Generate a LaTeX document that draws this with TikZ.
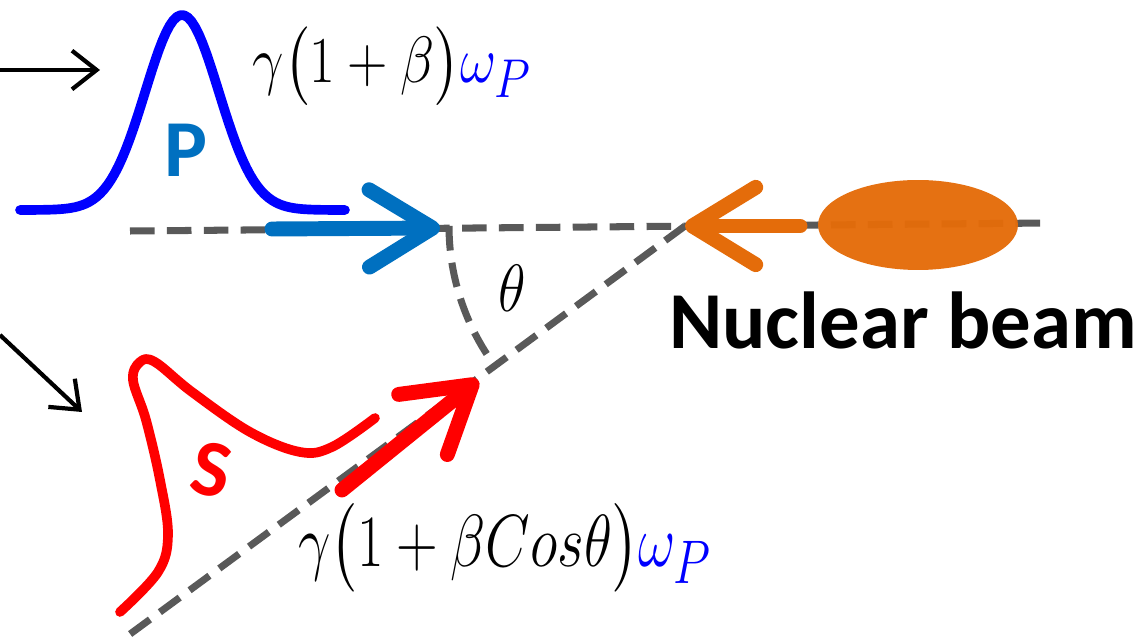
\documentclass[tikz,border=0pt]{standalone}
\usepackage{amsmath}
\usepackage{graphicx}
\usepackage{xcolor}
\usepackage{fontspec}
\usepackage{tikz}
\usetikzlibrary{arrows.meta, positioning, shapes.geometric, calc}
\newfontfamily\tagfont{Carlito}
\definecolor{pulseblue}{RGB}{0,0,255}
\definecolor{beamblue}{RGB}{0,112,192}
\definecolor{nucorange}{RGB}{228,108,10}
\definecolor{axisgray}{RGB}{89,89,89}

\begin{document}
\begin{tikzpicture}[x=0.02cm, y=-0.02cm,
    axis/.style={draw=axisgray, line width=4pt, dash pattern=on 14pt off 7pt},
    pulse/.style={line width=5.5pt, line cap=round, line join=round},
    beam/.style={line width=8.5pt, line cap=round,
                 -{Straight Barb[length=36pt, width=44pt, round]}},
    feed/.style={black, line width=2.4pt, -{Straight Barb[length=14pt, width=22pt]}},
    tag/.style={font=\tagfont\bfseries\fontsize{46}{50}\selectfont},
    formula/.style={font=\Huge, inner sep=0pt}
]
\useasboundingbox (0,0) rectangle (1144,644);
\coordinate (vtx) at (685,226);
\coordinate (axL) at (130,231);
\coordinate (axR) at (1050,223);
\coordinate (slant) at (122,640);

\draw[axis] (axL) -- (axR);
\draw[axis] (vtx) -- (slant);
\draw[axis] ($(vtx)+(-236,0)$) arc[start angle=180, end angle=145, radius=236];

\node[fill=nucorange, ellipse, minimum width=4cm, minimum height=1.8cm,
      inner sep=0pt, fill opacity=0.97] (nuc) at (918,225) {};
\node[tag] (nuclab) at (903,320) {Nuclear beam};

\coordinate (ptail) at (272,229);
\coordinate (ptip) at (440,228);
\draw[beam, beamblue] (ptail) -- (ptip);
\coordinate (otail) at (800,226);
\draw[beam, nucorange] (otail) -- (vtx);
\coordinate (stail) at (342,490);
\coordinate (stip) at (478,380);
\draw[beam, red] (stail) -- (stip);

\draw[pulse, pulseblue] plot[domain=20:345, samples=90]
    (\x, {210-195*exp(-((\x-182)/52)*((\x-182)/52))});
\draw[pulse, red] plot[smooth, tension=0.6] coordinates {(120,612) (158,572) (168,535)
    (160,480) (146,420) (133,380) (140,362) (155,362) (192,392) (250,432) (300,452)
    (332,447) (375,418)};

\node[tag, text=beamblue] (plab) at (186,150) {P};
\node[tag, text=red, rotate=-12] (slab) at (212,470) {S};
\node[formula] (thlab) at (512,288) {\scalebox{1.3}[1.53]{$\theta$}};

\node[formula] (pfreq) at (392,66)
    {\scalebox{1.28}[1.5]{$\gamma\bigl(1+\beta\bigr)\textcolor{pulseblue}{\omega_P}$}};
\node[formula] (sfreq) at (505,548)
    {\scalebox{1.32}[1.69]{$\gamma\bigl(1+\beta Cos\theta\bigr)\textcolor{pulseblue}{\omega_P}$}};

\coordinate (in1) at (0,70);
\coordinate (out1) at (100,70);
\coordinate (in2) at (0,335);
\coordinate (out2) at (82,412);
\draw[feed] (in1) -- (out1);
\draw[feed] (in2) -- (out2);
\end{tikzpicture}
\end{document}
